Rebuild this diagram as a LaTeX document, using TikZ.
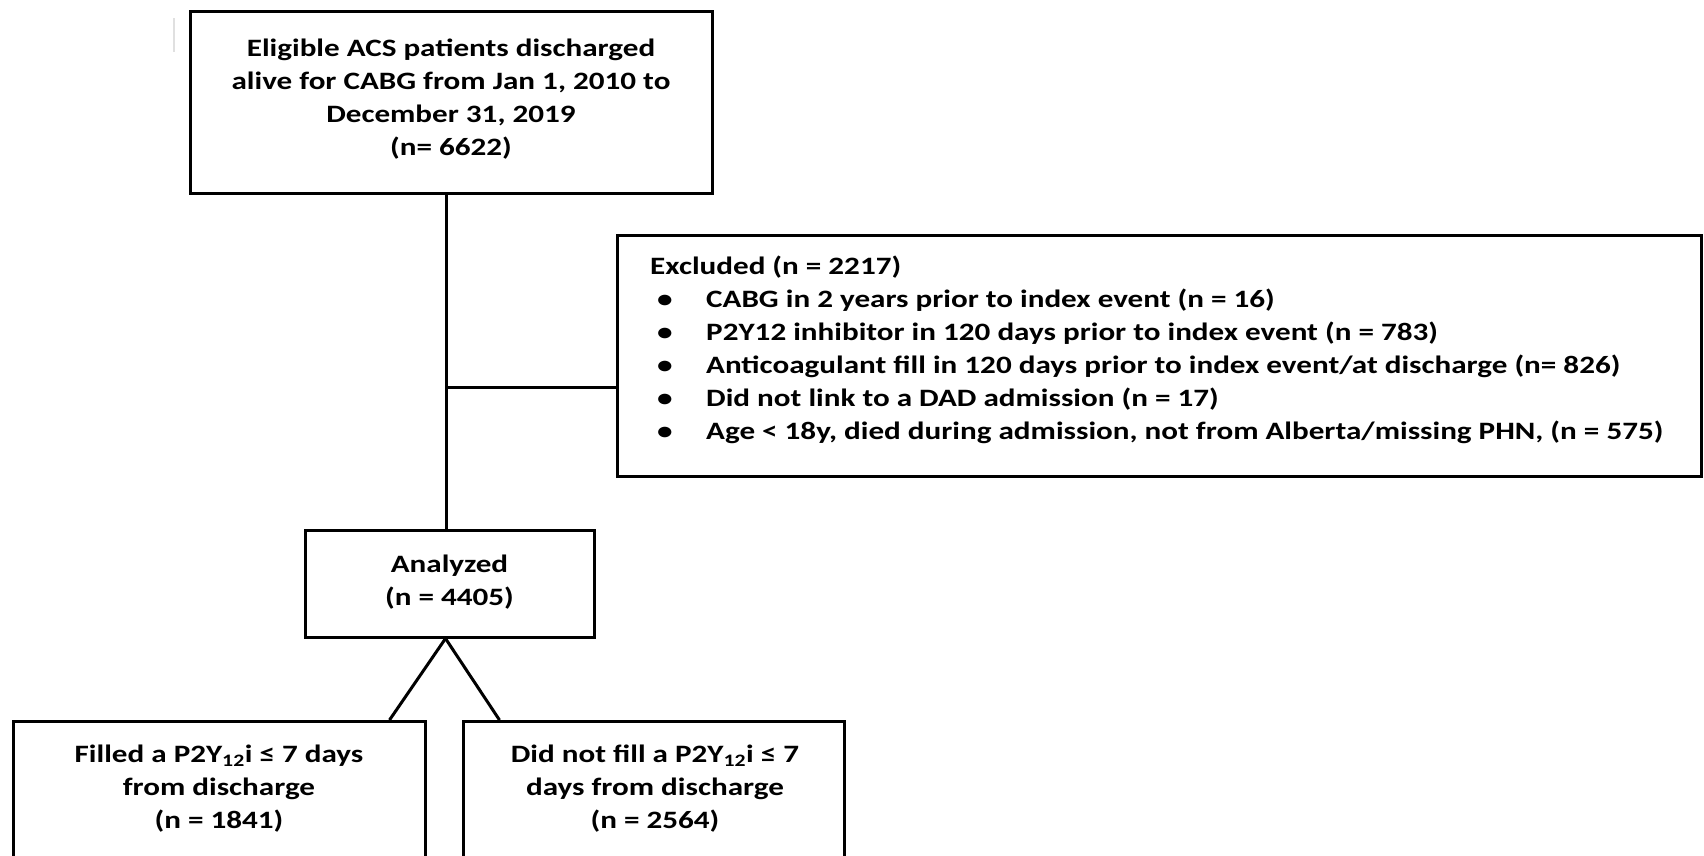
\documentclass[tikz,border=0pt]{standalone}
\usepackage{fontspec}
\setmainfont{Carlito}[FakeStretch=1.245]
\usetikzlibrary{calc}
\begin{document}
\begin{tikzpicture}[x=1pt,y=-1pt,
  box/.style={draw=black, line width=3pt, rectangle, inner sep=0pt},
  txt/.style={font=\fontsize{25}{33}\selectfont\bfseries, align=center, inner sep=0pt},
  link/.style={draw=black, line width=3pt}]
\clip (0,0) rectangle (1704,855);
\fill[white] (0,0) rectangle (1704,855);
\draw[black!12, line width=1.5pt] (174,18) -- (174,52);
% boxes
\node[box, minimum width=522pt, minimum height=182pt] (top) at (451,102) {};
\node[txt] (toptext) at (451,99.5) {Eligible ACS patients discharged\\alive for CABG from Jan 1, 2010 to\\December 31, 2019\\(n= 6622)};
\node[box, minimum width=1084pt, minimum height=241pt] (excl) at (1159,355.5) {};
\node[txt, align=left, anchor=west] (excltext) at (650,350) {Excluded (n = 2217)\\
\hspace*{7pt}\makebox[49pt][l]{\textbullet}CABG in 2 years prior to index event (n = 16)\\
\hspace*{7pt}\makebox[49pt][l]{\textbullet}P2Y12 inhibitor in 120 days prior to index event (n = 783)\\
\hspace*{7pt}\makebox[49pt][l]{\textbullet}Anticoagulant fill in 120 days prior to index event/at discharge (n= 826)\\
\hspace*{7pt}\makebox[49pt][l]{\textbullet}Did not link to a DAD admission (n = 17)\\
\hspace*{7pt}\makebox[49pt][l]{\textbullet}Age < 18y, died during admission, not from Alberta/missing PHN, (n = 575)};
\node[box, minimum width=289pt, minimum height=107pt] (ana) at (449.5,583.5) {};
\node[txt] (anatext) at (449.5,582.5) {Analyzed\\(n = 4405)};
\node[box, minimum width=412pt, minimum height=180pt, anchor=north] (bl) at (219,720) {};
\node[txt] (bltext) at (219,788.5) {Filled a P2Y\textsubscript{12}i ≤ 7 days\\from discharge\\(n = 1841)};
\node[box, minimum width=381pt, minimum height=180pt, anchor=north] (br) at (653.5,720) {};
\node[txt] (brtext) at (655,788.5) {Did not fill a P2Y\textsubscript{12}i ≤ 7\\days from discharge\\(n = 2564)};
% connectors
\coordinate (jx) at ($(excl.north west)!0.63!(excl.south west)$);
\draw[link] (top.south -| 446,0) -- (ana.north -| 446,0);
\draw[link] (jx) -- (jx -| 446,0);
\draw[link] ($(ana.south)+(-4,0)$) -- ($(bl.north east)+(-37,0)$);
\draw[link] ($(ana.south)+(-4,0)$) -- ($(br.north west)+(38,0)$);
\end{tikzpicture}
\end{document}
